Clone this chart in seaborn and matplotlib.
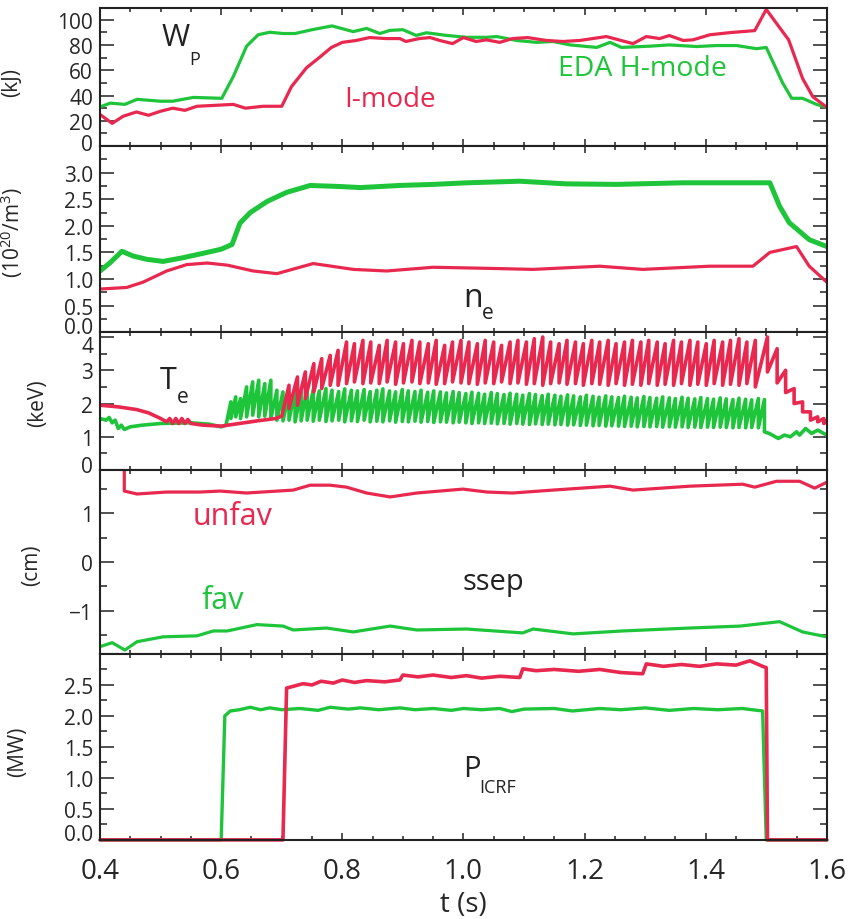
import numpy as np
import pandas as pd
import matplotlib
matplotlib.use("Agg")
import matplotlib.pyplot as plt
import matplotlib.transforms as mtransforms
from matplotlib.ticker import MultipleLocator
import seaborn as sns

GREEN = "#1ec43a"
RED = "#e8284f"

# ---- stored energy W_P (kJ)
wp_green = [(0.400, 31), (0.417, 34), (0.441, 33), (0.461, 37), (0.500, 35.5), (0.520, 35.5),
            (0.554, 38.5), (0.601, 37.8), (0.620, 55), (0.642, 79), (0.661, 88), (0.680, 90),
            (0.702, 89), (0.722, 89), (0.750, 92), (0.783, 95), (0.818, 90.5), (0.840, 93),
            (0.862, 89), (0.879, 91.5), (0.900, 92), (0.922, 87.5), (0.939, 89.6), (0.972, 87.5),
            (1.005, 86), (1.038, 86), (1.055, 86.6), (1.088, 83.5), (1.121, 82), (1.148, 82.7),
            (1.176, 80), (1.220, 78), (1.242, 82), (1.261, 78), (1.308, 79), (1.340, 80),
            (1.385, 78.7), (1.418, 79.5), (1.451, 79.5), (1.484, 77), (1.500, 78), (1.527, 50),
            (1.542, 37.8), (1.560, 37.8), (1.583, 33), (1.600, 30.7)]
wp_red = [(0.400, 25), (0.420, 18), (0.438, 23.6), (0.460, 27), (0.480, 24.4), (0.500, 27.6),
          (0.520, 30), (0.540, 28.3), (0.560, 31.5), (0.620, 33), (0.640, 30), (0.669, 31.5),
          (0.700, 31.5), (0.716, 47), (0.741, 62), (0.762, 70), (0.782, 78), (0.800, 82),
          (0.823, 83.5), (0.845, 85.8), (0.872, 85), (0.895, 85), (0.905, 82.7), (0.927, 85),
          (0.945, 85.8), (0.961, 83.5), (0.982, 81), (1.000, 85.8), (1.021, 82.7), (1.038, 84),
          (1.060, 82), (1.081, 85), (1.106, 85.8), (1.137, 83.5), (1.164, 82.7), (1.192, 83.5),
          (1.236, 86.6), (1.280, 81), (1.302, 86.6), (1.324, 85), (1.340, 87.4), (1.363, 83.5),
          (1.379, 84), (1.407, 88), (1.440, 89.7), (1.481, 91.3), (1.500, 108), (1.537, 84),
          (1.560, 53.5), (1.577, 39), (1.600, 30.7)]

# ---- density n_e (10^20 m^-3)
ne_green = [(0.400, 1.15), (0.417, 1.31), (0.436, 1.52), (0.455, 1.43), (0.477, 1.37), (0.504, 1.33),
            (0.537, 1.40), (0.577, 1.50), (0.600, 1.56), (0.618, 1.65), (0.631, 2.05), (0.648, 2.25),
            (0.676, 2.46), (0.708, 2.63), (0.747, 2.76), (0.796, 2.74), (0.830, 2.72), (0.895, 2.76),
            (0.950, 2.78), (1.006, 2.81), (1.093, 2.84), (1.170, 2.79), (1.253, 2.78), (1.362, 2.81),
            (1.506, 2.81), (1.522, 2.37), (1.538, 2.06), (1.571, 1.74), (1.600, 1.61)]
ne_red = [(0.400, 0.81), (0.444, 0.84), (0.471, 0.94), (0.510, 1.15), (0.543, 1.27), (0.577, 1.30),
          (0.610, 1.26), (0.653, 1.15), (0.692, 1.10), (0.752, 1.29), (0.818, 1.18), (0.873, 1.15),
          (0.950, 1.22), (1.039, 1.20), (1.115, 1.18), (1.225, 1.24), (1.296, 1.18), (1.407, 1.24),
          (1.478, 1.24), (1.506, 1.50), (1.550, 1.61), (1.571, 1.24), (1.600, 0.94)]

# ---- electron temperature T_e (keV): smooth parts + sawtooth teeth (crash time, peak, after crash)
te_red_pre = [(0.400, 1.95), (0.430, 1.90), (0.460, 1.82), (0.480, 1.72), (0.500, 1.55), (0.510, 1.45),
              (0.515, 1.55), (0.520, 1.40), (0.525, 1.55), (0.530, 1.40), (0.535, 1.55), (0.540, 1.40),
              (0.545, 1.52), (0.550, 1.40), (0.570, 1.35), (0.600, 1.32), (0.630, 1.40), (0.660, 1.48),
              (0.690, 1.55), (0.700, 1.62)]
te_red_teeth = [(0.712, 2.55, 1.85), (0.726, 2.80, 1.95), (0.739, 2.95, 2.15), (0.753, 3.20, 2.35),
                (0.766, 3.35, 2.45), (0.780, 3.45, 2.55), (0.793, 3.60, 2.55), (0.807, 3.85, 2.60),
                (0.820, 3.80, 2.65), (0.834, 3.90, 2.60), (0.847, 3.85, 2.62), (0.861, 3.75, 2.60),
                (0.874, 3.90, 2.65), (0.888, 3.85, 2.58), (0.901, 3.80, 2.62), (0.915, 3.90, 2.65),
                (0.928, 3.85, 2.60), (0.942, 3.80, 2.62), (0.955, 3.90, 2.58), (0.969, 3.75, 2.60),
                (0.982, 3.85, 2.65), (0.996, 3.90, 2.62), (1.009, 3.85, 2.60), (1.023, 3.80, 2.58),
                (1.036, 3.90, 2.62), (1.050, 3.85, 2.60), (1.063, 3.75, 2.65), (1.077, 3.85, 2.60),
                (1.090, 3.90, 2.62), (1.104, 3.85, 2.58), (1.117, 3.95, 2.60), (1.131, 4.00, 2.55),
                (1.144, 3.85, 2.60), (1.158, 3.80, 2.62), (1.171, 3.90, 2.58), (1.185, 3.85, 2.60),
                (1.198, 3.80, 2.55), (1.212, 3.90, 2.60), (1.225, 3.85, 2.58), (1.239, 3.90, 2.55),
                (1.252, 3.80, 2.60), (1.266, 3.85, 2.55), (1.279, 3.90, 2.58), (1.293, 3.85, 2.55),
                (1.306, 3.90, 2.60), (1.320, 3.85, 2.55), (1.333, 3.80, 2.58), (1.347, 3.90, 2.55),
                (1.360, 3.85, 2.60), (1.374, 3.90, 2.55), (1.387, 3.85, 2.58), (1.401, 3.80, 2.55),
                (1.414, 3.90, 2.60), (1.428, 3.85, 2.55), (1.441, 3.90, 2.58), (1.455, 3.95, 2.55),
                (1.468, 3.85, 2.60), (1.482, 3.90, 2.50), (1.502, 4.00, 2.95), (1.518, 3.65, 2.62),
                (1.532, 3.00, 2.33), (1.546, 2.45, 2.00), (1.560, 2.05, 1.75), (1.573, 1.75, 1.50),
                (1.585, 1.60, 1.45), (1.595, 1.55, 1.40)]
te_red_post = [(1.600, 1.45)]

te_green_pre = [(0.400, 1.55), (0.410, 1.50), (0.415, 1.58), (0.420, 1.42), (0.425, 1.50), (0.430, 1.25),
                (0.435, 1.35), (0.440, 1.22), (0.450, 1.30), (0.470, 1.35), (0.500, 1.40), (0.550, 1.42),
                (0.580, 1.38), (0.600, 1.30), (0.608, 1.35)]
te_green_teeth = [(0.616, 2.05, 1.55), (0.624, 2.20, 1.60), (0.632, 2.15, 1.55), (0.642, 2.50, 1.60),
                  (0.652, 2.65, 1.65), (0.662, 2.70, 1.60), (0.672, 2.60, 1.62), (0.682, 2.70, 1.55),
                  (0.692, 2.40, 1.50), (0.702, 2.35, 1.48), (0.712, 2.30, 1.50), (0.722, 2.40, 1.45),
                  (0.732, 2.35, 1.48), (0.742, 2.45, 1.50), (0.752, 2.42, 1.47), (0.762, 2.38, 1.50),
                  (0.773, 2.45, 1.46), (0.783, 2.40, 1.48), (0.794, 2.36, 1.50), (0.804, 2.44, 1.45),
                  (0.815, 2.40, 1.48), (0.825, 2.38, 1.46), (0.836, 2.42, 1.50), (0.846, 2.36, 1.45),
                  (0.857, 2.40, 1.47), (0.867, 2.44, 1.45), (0.878, 2.38, 1.48), (0.888, 2.35, 1.44),
                  (0.899, 2.42, 1.46), (0.909, 2.38, 1.45), (0.920, 2.36, 1.47), (0.930, 2.40, 1.44),
                  (0.941, 2.34, 1.46), (0.951, 2.38, 1.43), (0.962, 2.35, 1.45), (0.972, 2.32, 1.44),
                  (0.983, 2.36, 1.42), (0.993, 2.33, 1.44), (1.004, 2.30, 1.42), (1.014, 2.34, 1.40),
                  (1.025, 2.31, 1.42), (1.035, 2.28, 1.40), (1.046, 2.33, 1.41), (1.056, 2.30, 1.39),
                  (1.067, 2.27, 1.40), (1.077, 2.31, 1.38), (1.088, 2.28, 1.40), (1.098, 2.25, 1.38),
                  (1.109, 2.30, 1.37), (1.119, 2.27, 1.39), (1.130, 2.24, 1.37), (1.140, 2.28, 1.38),
                  (1.151, 2.25, 1.36), (1.161, 2.22, 1.37), (1.172, 2.26, 1.35), (1.182, 2.23, 1.36),
                  (1.193, 2.20, 1.34), (1.203, 2.25, 1.35), (1.214, 2.22, 1.33), (1.224, 2.19, 1.34),
                  (1.235, 2.23, 1.32), (1.245, 2.20, 1.33), (1.256, 2.18, 1.32), (1.266, 2.22, 1.31),
                  (1.277, 2.19, 1.32), (1.287, 2.17, 1.30), (1.298, 2.21, 1.31), (1.308, 2.18, 1.30),
                  (1.319, 2.16, 1.31), (1.329, 2.20, 1.29), (1.340, 2.17, 1.30), (1.350, 2.15, 1.29),
                  (1.361, 2.19, 1.30), (1.371, 2.16, 1.28), (1.382, 2.14, 1.29), (1.392, 2.18, 1.28),
                  (1.403, 2.15, 1.29), (1.413, 2.13, 1.28), (1.424, 2.17, 1.29), (1.434, 2.14, 1.28),
                  (1.445, 2.12, 1.27), (1.455, 2.16, 1.28), (1.466, 2.13, 1.27), (1.476, 2.11, 1.28),
                  (1.487, 2.15, 1.27), (1.497, 2.12, 1.15)]
te_green_post = [(1.505, 1.10), (1.520, 0.95), (1.530, 1.05), (1.540, 1.00), (1.550, 1.15), (1.555, 1.05),
                 (1.565, 1.25), (1.575, 1.10), (1.585, 1.20), (1.600, 1.05)]

# ---- separatrix ssep (cm)
ssep_red = [(0.440, 2.00), (0.440, 1.45), (0.461, 1.39), (0.510, 1.43), (0.565, 1.43), (0.598, 1.45),
            (0.642, 1.41), (0.719, 1.47), (0.747, 1.57), (0.780, 1.57), (0.807, 1.53), (0.840, 1.41),
            (0.879, 1.33), (0.923, 1.41), (0.999, 1.49), (1.039, 1.43), (1.081, 1.41), (1.148, 1.47),
            (1.242, 1.55), (1.280, 1.47), (1.374, 1.55), (1.461, 1.59), (1.481, 1.53), (1.517, 1.65),
            (1.555, 1.65), (1.580, 1.51), (1.600, 1.63)]
ssep_green = [(0.400, -1.73), (0.420, -1.65), (0.441, -1.80), (0.461, -1.63), (0.504, -1.53), (0.560, -1.51),
              (0.587, -1.41), (0.610, -1.41), (0.659, -1.28), (0.702, -1.31), (0.719, -1.39), (0.774, -1.35),
              (0.818, -1.43), (0.879, -1.31), (0.923, -1.39), (1.005, -1.37), (1.098, -1.45), (1.115, -1.37),
              (1.181, -1.47), (1.263, -1.41), (1.374, -1.35), (1.457, -1.31), (1.522, -1.22), (1.560, -1.43),
              (1.600, -1.53)]

# ---- ICRF power (MW)
picrf_green = [(0.400, 0.0), (0.600, 0.0), (0.606, 2.00), (0.615, 2.08), (0.630, 2.10), (0.648, 2.14),
               (0.665, 2.10), (0.680, 2.13), (0.700, 2.10), (0.730, 2.12), (0.760, 2.09), (0.780, 2.14),
               (0.810, 2.11), (0.830, 2.13), (0.860, 2.10), (0.895, 2.13), (0.920, 2.10), (0.950, 2.12),
               (0.980, 2.09), (1.000, 2.12), (1.030, 2.10), (1.060, 2.12), (1.080, 2.07), (1.100, 2.11),
               (1.150, 2.12), (1.180, 2.08), (1.225, 2.12), (1.260, 2.10), (1.300, 2.13), (1.340, 2.09),
               (1.380, 2.12), (1.420, 2.10), (1.460, 2.12), (1.494, 2.08), (1.500, 0.0), (1.600, 0.0)]
picrf_red = [(0.400, 0.0), (0.702, 0.0), (0.708, 2.45), (0.720, 2.48), (0.735, 2.52), (0.750, 2.50),
             (0.765, 2.56), (0.785, 2.53), (0.800, 2.58), (0.820, 2.54), (0.840, 2.57), (0.870, 2.55),
             (0.895, 2.58), (0.900, 2.66), (0.925, 2.63), (0.950, 2.66), (0.980, 2.62), (1.005, 2.65),
             (1.030, 2.61), (1.060, 2.64), (1.093, 2.62), (1.098, 2.76), (1.120, 2.73), (1.150, 2.75),
             (1.190, 2.72), (1.225, 2.75), (1.260, 2.70), (1.296, 2.68), (1.302, 2.84), (1.330, 2.80),
             (1.360, 2.83), (1.390, 2.80), (1.418, 2.84), (1.450, 2.82), (1.473, 2.89), (1.494, 2.80),
             (1.500, 2.78), (1.502, 0.0), (1.600, 0.0)]


def xy(points):
    return [p[0] for p in points], [p[1] for p in points]


def saw(pre, teeth, post):
    t, v = xy(pre)
    for tc, hi, lo in teeth:
        t += [tc, tc]
        v += [hi, lo]
    t2, v2 = xy(post)
    return t + t2, v + v2


def line(ax, x, y, color, lw, clip=True):
    sns.lineplot(x=x, y=y, ax=ax, color=color, lw=lw, estimator=None, sort=False,
                 legend=False, clip_on=clip)


sns.set_theme(style="ticks")
plt.rcParams["font.family"] = ["Open Sans", "DejaVu Sans"]
plt.rcParams["mathtext.fontset"] = "custom"
plt.rcParams["mathtext.rm"] = "Open Sans"

fig = plt.figure(figsize=(8.48, 9.2), dpi=100)
gs = fig.add_gridspec(5, 1, height_ratios=[138, 186, 138, 184, 186], hspace=0,
                      left=0.118, right=0.975, top=0.990, bottom=0.086)
axes = [fig.add_subplot(gs[0])]
for i in range(1, 5):
    axes.append(fig.add_subplot(gs[i], sharex=axes[0]))
ax1, ax2, ax3, ax4, ax5 = axes

line(ax1, *xy(wp_green), GREEN, 2.3)
line(ax1, *xy(wp_red), RED, 2.3)
line(ax2, *xy(ne_green), GREEN, 3.6)
line(ax2, *xy(ne_red), RED, 2.3)
line(ax3, *saw(te_green_pre, te_green_teeth, te_green_post), GREEN, 2.6)
line(ax3, *saw(te_red_pre, te_red_teeth, te_red_post), RED, 2.6)
line(ax4, *xy(ssep_red), RED, 2.3)
line(ax4, *xy(ssep_green), GREEN, 2.3)
line(ax5, *xy(picrf_green), GREEN, 2.4, clip=False)
line(ax5, *xy(picrf_red), RED, 2.6, clip=False)

ax1.set_ylim(0, 109)
ax1.set_yticks([0, 20, 40, 60, 80, 100])
ax1.yaxis.set_minor_locator(MultipleLocator(10))
ax2.set_ylim(0, 3.5)
ax2.set_yticks([0, 0.5, 1.0, 1.5, 2.0, 2.5, 3.0])
ax2.set_yticklabels(["0.0", "0.5", "1.0", "1.5", "2.0", "2.5", "3.0"])
ax2.yaxis.set_minor_locator(MultipleLocator(0.25))
ax3.set_ylim(0, 4.15)
ax3.set_yticks([0, 1, 2, 3, 4])
ax3.yaxis.set_minor_locator(MultipleLocator(0.5))
ax4.set_ylim(-1.88, 1.88)
ax4.set_yticks([-1, 0, 1])
ax4.yaxis.set_minor_locator(MultipleLocator(0.5))
ax5.set_ylim(0, 3.0)
ax5.set_yticks([0, 0.5, 1.0, 1.5, 2.0, 2.5])
ax5.set_yticklabels(["0.0", "0.5", "1.0", "1.5", "2.0", "2.5"])
ax5.yaxis.set_minor_locator(MultipleLocator(0.25))

ax5.set_xlim(0.4, 1.6)
ax5.set_xticks([0.4, 0.6, 0.8, 1.0, 1.2, 1.4, 1.6])
ax5.xaxis.set_minor_locator(MultipleLocator(0.05))

ylabels = ["(kJ)", r"(10$^{\mathregular{20}}$/m$^{\mathregular{3}}$)", "(keV)", "(cm)", "(MW)"]
label_x = [-0.107, -0.103, -0.072, -0.080, -0.099]
label_y = [0.47, 0.54, 0.49, 0.49, 0.48]
for ax, lab, lx, ly in zip(axes, ylabels, label_x, label_y):
    ax.set_ylabel(lab, fontsize=15)
    ax.yaxis.set_label_coords(lx, ly)
    ax.tick_params(axis="both", which="both", direction="in", top=True, right=True,
                   width=1.1, color="#222222")
    ax.tick_params(axis="y", which="major", length=10, labelsize=15, pad=5)
    ax.tick_params(axis="y", which="minor", length=5)
    ax.tick_params(axis="x", which="major", length=5)
    ax.tick_params(axis="x", which="minor", length=3)
    for s in ax.spines.values():
        s.set_linewidth(1.5)
        s.set_color("#222222")
    if ax is not ax5:
        ax.tick_params(axis="x", labelbottom=False)
    ax.set_xlabel("")

ax5.tick_params(axis="x", which="major", labelsize=20, pad=12)
ax5.set_xlabel("t (s)", fontsize=20, labelpad=4)

# lowest y labels sit a little above their ticks, as in the original
shifts = {ax1: 3, ax2: 5, ax3: 4, ax5: 6}
for ax, dy in shifts.items():
    lab = ax.yaxis.get_major_ticks()[0].label1
    lab.set_transform(lab.get_transform() + mtransforms.ScaledTranslation(0, dy / 72, fig.dpi_scale_trans))
lab = ax3.yaxis.get_major_ticks()[-1].label1
lab.set_transform(lab.get_transform() + mtransforms.ScaledTranslation(0, -5 / 72, fig.dpi_scale_trans))

# annotations
ax1.text(0.525, 86, "W", fontsize=22, ha="center", va="center", color="#222222")
ax1.text(0.556, 69, "P", fontsize=13, ha="center", va="center", color="#222222")
ax1.text(1.296, 62, "EDA H-mode", fontsize=20.5, ha="center", va="center", color=GREEN)
ax1.text(0.879, 37, "I-mode", fontsize=20, ha="center", va="center", color=RED)
ax2.text(1.016, 0.66, "n", fontsize=23, ha="center", va="center", color="#222222")
ax2.text(1.040, 0.36, "e", fontsize=15, ha="center", va="center", color="#222222")
ax3.text(0.512, 2.72, "T", fontsize=22, ha="center", va="center", color="#222222")
ax3.text(0.536, 2.22, "e", fontsize=15, ha="center", va="center", color="#222222")
ax4.text(0.618, 0.95, "unfav", fontsize=22, ha="center", va="center", color=RED)
ax4.text(0.603, -0.78, "fav", fontsize=22, ha="center", va="center", color=GREEN)
ax4.text(1.050, -0.40, "ssep", fontsize=21, ha="center", va="center", color="#222222")
ax5.text(1.014, 1.15, "P", fontsize=21, ha="center", va="center", color="#222222")
ax5.text(1.057, 0.85, "ICRF", fontsize=13, ha="center", va="center", color="#222222")

fig.savefig("out.png", dpi=100)
